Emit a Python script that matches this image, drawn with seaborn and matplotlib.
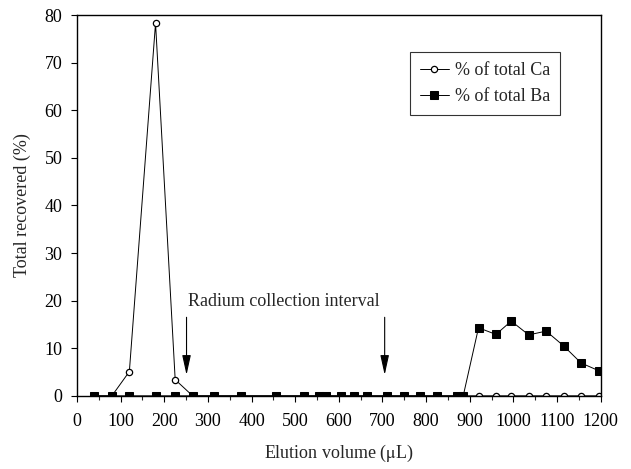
"""Elution profile of Ca and Ba — recovery per fraction."""

import matplotlib

matplotlib.use("Agg")
import matplotlib.pyplot as plt
import pandas as pd
import seaborn as sns
from matplotlib.ticker import MultipleLocator

# elution volume (uL) at each collected fraction
volume = [40, 80, 120, 180, 225, 265, 315, 375, 455, 520, 555, 570, 605, 635, 665,
          710, 750, 785, 825, 870, 885, 920, 960, 995, 1035, 1075, 1115, 1155, 1195]
ca_pct = [0, 0, 5.1, 78.3, 3.4, 0, 0, 0, 0, 0, 0, 0, 0, 0, 0,
          0, 0, 0, 0, 0, 0, 0, 0, 0, 0, 0, 0, 0, 0]
ba_pct = [0, 0, 0, 0, 0, 0, 0, 0, 0, 0, 0, 0, 0, 0, 0,
          0, 0, 0, 0, 0, 0, 14.3, 12.9, 15.7, 12.8, 13.6, 10.5, 6.9, 5.3]

arrow_x = [251, 705]
note = "Radium collection interval"


def main() -> None:
    sns.set_theme(style="ticks")
    plt.rcParams["font.family"] = ["Liberation Serif", "DejaVu Serif"]
    plt.rcParams["mathtext.fontset"] = "stix"

    frame = pd.DataFrame({"volume": volume, "ca": ca_pct, "ba": ba_pct})

    fig, ax = plt.subplots(figsize=(6.31, 4.69), dpi=100)
    fig.subplots_adjust(left=0.122, right=0.952, top=0.968, bottom=0.156)

    sns.lineplot(data=frame, x="volume", y="ca", ax=ax, color="black", lw=0.7,
                 marker="o", markersize=4.5, markerfacecolor="white",
                 markeredgecolor="black", markeredgewidth=0.9, label="% of total Ca")
    sns.lineplot(data=frame, x="volume", y="ba", ax=ax, color="black", lw=0.7,
                 marker="s", markersize=5.3, markerfacecolor="black",
                 markeredgecolor="black", label="% of total Ba")

    for xv in arrow_x:
        ax.annotate("", xy=(xv, 4.4), xytext=(xv, 16.5),
                    arrowprops=dict(arrowstyle="-|>,head_length=1.0,head_width=0.22",
                                    color="black", lw=0.8, mutation_scale=12,
                                    shrinkA=0, shrinkB=0))
    ax.text(255, 19.8, note, fontsize=13, ha="left", va="center")

    ax.set_xlim(0, 1200)
    ax.set_ylim(0, 80)
    ax.xaxis.set_major_locator(MultipleLocator(100))
    ax.xaxis.set_minor_locator(MultipleLocator(50))
    ax.yaxis.set_major_locator(MultipleLocator(10))
    ax.tick_params(axis="both", which="major", direction="out", length=4.5, width=0.8,
                   labelsize=13, colors="black")
    ax.tick_params(axis="x", which="major", pad=8)
    ax.tick_params(axis="y", which="major", pad=6)
    ax.tick_params(axis="x", which="minor", direction="out", length=3, width=0.8)
    for side in ["top", "right", "left", "bottom"]:
        ax.spines[side].set_visible(True)
        ax.spines[side].set_color("black")
        ax.spines[side].set_linewidth(1.0)

    ax.set_xlabel(r"Elution volume ($\mathrm{\mu}$L)", fontsize=13, labelpad=9)
    ax.set_ylabel("Total recovered (%)", fontsize=13, labelpad=10)

    leg = ax.legend(loc="upper right", bbox_to_anchor=(0.922, 0.903), borderaxespad=0,
                    fontsize=13, frameon=True, fancybox=False, edgecolor="black",
                    handlelength=1.6, handletextpad=0.33, borderpad=0.55,
                    labelspacing=0.5)
    leg.get_frame().set_linewidth(0.8)

    fig.savefig("out.png", dpi=100)
    plt.close(fig)


if __name__ == "__main__":
    main()
